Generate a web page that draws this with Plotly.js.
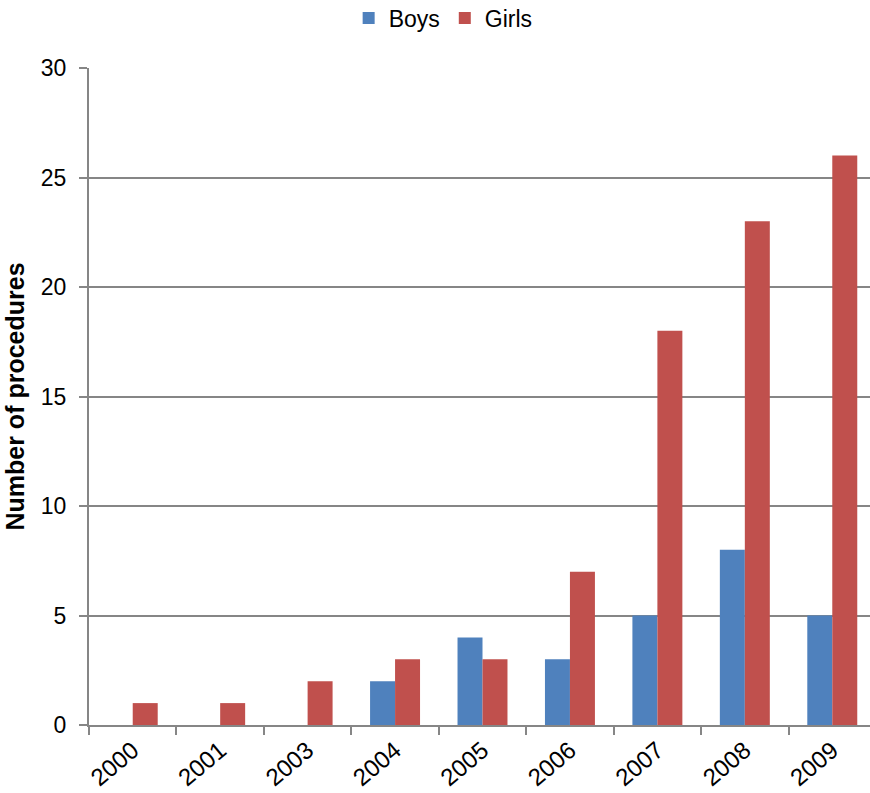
<!DOCTYPE html>
<html>
<head>
<meta charset="utf-8">
<script src="https://cdn.plot.ly/plotly-3.0.1.min.js"></script>
<style>html,body{margin:0;padding:0;overflow:hidden;background:#fff;}#chart{width:880px;height:793px;}</style>
</head>
<body>
<div id="chart"></div>
<script>
const years = ['2000', '2001', '2003', '2004', '2005', '2006', '2007', '2008', '2009'];
const boys = [0, 0, 0, 2, 4, 3, 5, 8, 5];
const girls = [1, 1, 2, 3, 3, 7, 18, 23, 26];
const yTicks = [0, 5, 10, 15, 20, 25, 30];

const traces = [
  {type: 'bar', name: 'Boys', x: years, y: boys, marker: {color: '#4F81BD'}},
  {type: 'bar', name: 'Girls', x: years, y: girls, marker: {color: '#C0504D'}}
];

const layout = {
  width: 880, height: 793,
  margin: {l: 89, r: 3.5, t: 68, b: 68, autoexpand: false},
  paper_bgcolor: '#fff', plot_bgcolor: '#fff',
  font: {family: 'Liberation Sans, Arial, sans-serif', size: 23, color: '#000'},
  barmode: 'group',
  bargap: 0.4286,
  bargroupgap: 0,
  showlegend: true,
  legend: {orientation: 'h', x: 0.45, xanchor: 'center', xref: 'paper', y: 1.076, yanchor: 'middle', yref: 'paper',
    font: {size: 23}, traceorder: 'normal', itemwidth: 30},
  xaxis: {
    type: 'category', tickson: 'boundaries', ticks: 'outside', ticklen: 8, tickcolor: '#868686', tickwidth: 2,
    showline: true, linecolor: '#868686', linewidth: 2, showgrid: false, tickangle: -40,
    tickfont: {size: 24}, fixedrange: true, automargin: false
  },
  yaxis: {
    range: [0, 30], tickvals: yTicks, ticktext: yTicks.map(String),
    ticks: 'outside', ticklen: 8, tickcolor: '#868686', tickwidth: 2,
    showline: true, linecolor: '#868686', linewidth: 2,
    showgrid: true, gridcolor: '#868686', gridwidth: 2, zeroline: false,
    tickfont: {size: 23}, ticklabelstandoff: 8, automargin: false,
    title: {text: '<b>Number of procedures</b>', font: {size: 25}, standoff: 9}
  }
};

Plotly.newPlot('chart', traces, layout, {displayModeBar: false, staticPlot: true});
</script>
</body>
</html>
